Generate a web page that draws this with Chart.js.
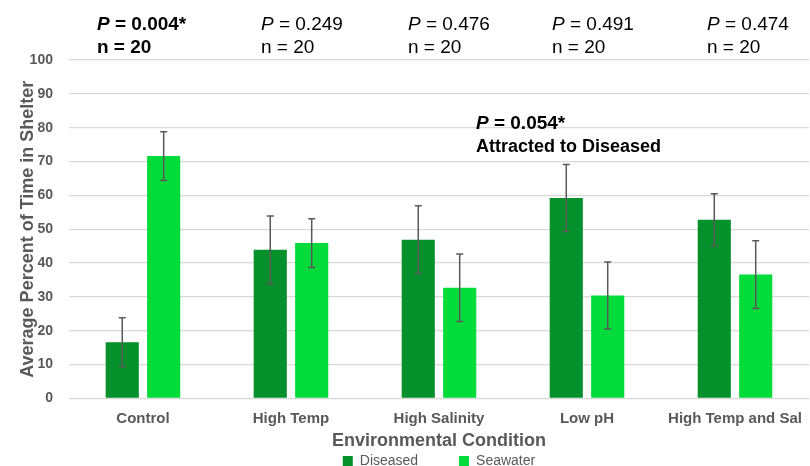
<!DOCTYPE html>
<html>
<head>
<meta charset="utf-8">
<script src="https://cdn.jsdelivr.net/npm/chart.js@4.4.1/dist/chart.umd.min.js"></script>
<style>
  html, body { margin: 0; padding: 0; background: #fff; }
  #wrap { width: 810px; height: 466px; }
</style>
</head>
<body>
<div id="wrap"><canvas id="shelterChart"></canvas></div>
<script>
// data
const conditions = ['Control', 'High Temp', 'High Salinity', 'Low pH', 'High Temp and Sal'];
const diseased = [16.6, 43.9, 46.9, 59.2, 52.8];
const seawater = [71.6, 45.9, 32.7, 30.4, 36.6];
const diseasedErr = [7.2, 10.0, 10.0, 9.9, 7.7];
const seawaterErr = [7.2, 7.2, 10.0, 9.9, 10.0];
const pValues = ['0.004*', '0.249', '0.476', '0.491', '0.474'];
const sampleSizes = [20, 20, 20, 20, 20];
const significant = [true, false, false, false, false];
const pLabelShift = [-46, -30, -31, -35, -28];

const FONT = '"Liberation Sans", Arial, sans-serif';
const GREY = '#595959';

// error bars on top of each bar
const errorBars = {
  id: 'errorBars',
  afterDatasetsDraw(chart) {
    const ctx = chart.ctx;
    const y = chart.scales.y;
    const errs = [diseasedErr, seawaterErr];
    ctx.save();
    ctx.strokeStyle = GREY;
    ctx.lineWidth = 1.5;
    chart.data.datasets.forEach((ds, di) => {
      const meta = chart.getDatasetMeta(di);
      meta.data.forEach((bar, i) => {
        const v = ds.data[i];
        const e = errs[di][i];
        const top = y.getPixelForValue(v + e);
        const bot = y.getPixelForValue(v - e);
        ctx.beginPath();
        ctx.moveTo(bar.x, top);
        ctx.lineTo(bar.x, bot);
        ctx.moveTo(bar.x - 3.5, top);
        ctx.lineTo(bar.x + 3.5, top);
        ctx.moveTo(bar.x - 3.5, bot);
        ctx.lineTo(bar.x + 3.5, bot);
        ctx.stroke();
      });
    });
    ctx.restore();
  }
};

// P value / n labels above the plot
const statLabels = {
  id: 'statLabels',
  afterDraw(chart) {
    const ctx = chart.ctx;
    const x = chart.scales.x;
    const y = chart.scales.y;
    ctx.save();
    ctx.fillStyle = '#000';
    ctx.textBaseline = 'alphabetic';
    ctx.textAlign = 'left';
    const drawP = (px, py, val, bold) => {
      const w = bold ? 'bold ' : '';
      ctx.font = 'italic ' + w + '19px ' + FONT;
      ctx.fillText('P', px, py);
      const pw = ctx.measureText('P').width;
      ctx.font = w + '19px ' + FONT;
      ctx.fillText(' = ' + val, px + pw, py);
    };
    pValues.forEach((p, i) => {
      const px = x.getPixelForValue(i) + pLabelShift[i];
      drawP(px, 30, p, significant[i]);
      ctx.font = (significant[i] ? 'bold ' : '') + '19px ' + FONT;
      ctx.fillText('n = ' + sampleSizes[i], px, 53);
    });
    // Low pH note
    const mx = x.getPixelForValue(2) + 37;
    drawP(mx, y.getPixelForValue(79.6), '0.054*', true);
    ctx.font = 'bold 18px ' + FONT;
    ctx.fillText('Attracted to Diseased', mx, y.getPixelForValue(72.8));
    ctx.restore();
  }
};

const ctx = document.getElementById('shelterChart').getContext('2d');

const shelterChart = new Chart(ctx, {
  type: 'bar',
  data: {
    labels: conditions,
    datasets: [
      {
        label: 'Diseased',
        data: diseased,
        backgroundColor: '#04912B',
        categoryPercentage: 0.56,
        barPercentage: 0.8
      },
      {
        label: 'Seawater',
        data: seawater,
        backgroundColor: '#03DB3A',
        categoryPercentage: 0.56,
        barPercentage: 0.8
      }
    ]
  },
  options: {
    responsive: true,
    maintainAspectRatio: false,
    animation: false,
    layout: { padding: { top: 60, right: 1, left: 0, bottom: -12 } },
    scales: {
      x: {
        grid: { display: false },
        border: { display: false },
        ticks: { color: GREY, font: { family: FONT, size: 15, weight: 'bold' }, padding: 3 },
        title: {
          display: true,
          text: 'Environmental Condition',
          color: GREY,
          font: { family: FONT, size: 18, weight: 'bold' },
          padding: { top: 0, bottom: 0 }
        }
      },
      y: {
        min: 0,
        max: 100,
        ticks: { stepSize: 10, color: GREY, font: { family: FONT, size: 14, weight: 'bold' }, padding: 16 },
        grid: { color: '#d9d9d9', lineWidth: 1.2, drawTicks: false },
        border: { display: false },
        title: {
          display: true,
          text: 'Average Percent of Time in Shelter',
          color: GREY,
          font: { family: FONT, size: 18, weight: 'bold' },
          padding: { top: 17, bottom: -25 }
        }
      }
    },
    plugins: {
      legend: {
        position: 'bottom',
        fullSize: false,
        labels: {
          color: GREY,
          font: { family: FONT, size: 14 },
          boxWidth: 10,
          boxHeight: 10,
          padding: 2,
          generateLabels(chart) {
            const items = Chart.defaults.plugins.legend.labels.generateLabels(chart);
            items[0].text = items[0].text + '          ';
            items.forEach(it => { it.lineWidth = 0; });
            return items;
          }
        }
      },
      tooltip: { enabled: false }
    }
  },
  plugins: [errorBars, statLabels]
});
</script>
</body>
</html>
